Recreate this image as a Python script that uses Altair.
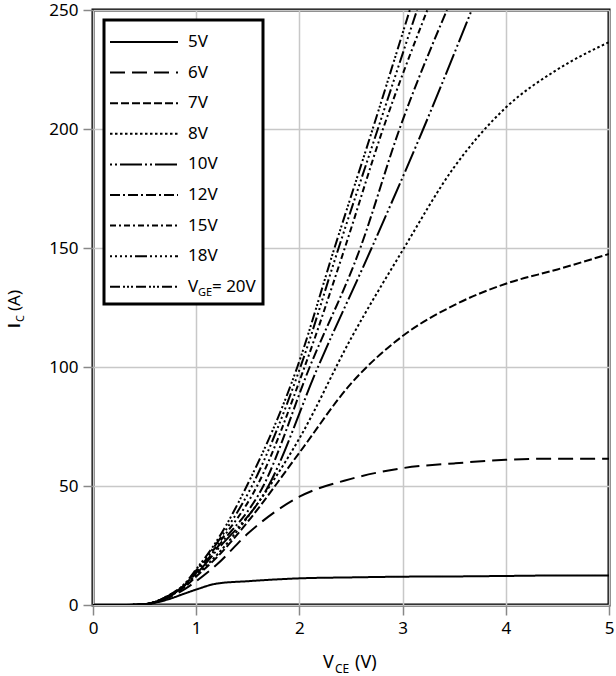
import altair as alt
import pandas as pd

# ---- data ----
labels = ["5V", "6V", "7V", "8V", "10V", "12V", "15V", "18V", "20V"]

v_low = [0, 0.3, 0.5, 0.7, 0.9, 1.0, 1.2, 1.5, 2.0, 2.5, 3.0, 3.5, 4.0, 4.5, 5.0]
i_5V = [0, 0, 0.3, 2.0, 5.0, 6.5, 9.0, 10.0, 11.2, 11.6, 11.9, 12.0, 12.2, 12.4, 12.4]
i_6V = [0, 0, 0.3, 2.5, 7.0, 10.0, 17.0, 30.0, 45.5, 53.0, 57.5, 59.5, 61.0, 61.5, 61.5]
i_7V = [0, 0, 0.3, 2.8, 8.0, 12.0, 20.0, 35.0, 64.0, 93.0, 113.0, 126.0, 135.0, 141.0, 147.5]
i_8V = [0, 0, 0.3, 3.0, 8.5, 12.5, 21.0, 37.0, 70.0, 112.0, 149.0, 184.0, 209.0, 225.0, 236.5]

v_10V = [0, 0.3, 0.5, 0.7, 0.9, 1.0, 1.2, 1.70, 2.18, 2.70, 3.20, 3.67]
i_10V = [0, 0, 0.3, 3.0, 8.7, 13.0, 23.0, 50, 100, 150, 200, 250]
v_12V = [0, 0.3, 0.5, 0.7, 0.9, 1.0, 1.2, 1.65, 2.10, 2.59, 2.97, 3.43]
i_12V = [0, 0, 0.3, 3.1, 8.8, 13.5, 24.0, 50, 100, 150, 200, 250]
v_15V = [0, 0.3, 0.5, 0.7, 0.9, 1.0, 1.2, 1.59, 2.05, 2.44, 2.81, 3.24]
i_15V = [0, 0, 0.3, 3.1, 9.0, 14.0, 25.0, 50, 100, 150, 200, 250]
v_18V = [0, 0.3, 0.5, 0.7, 0.9, 1.0, 1.2, 1.54, 2.01, 2.38, 2.76, 3.14]
i_18V = [0, 0, 0.3, 3.2, 9.3, 14.5, 26.0, 50, 100, 150, 200, 250]
v_20V = [0, 0.3, 0.5, 0.7, 0.9, 1.0, 1.2, 1.49, 1.98, 2.34, 2.71, 3.07]
i_20V = [0, 0, 0.3, 3.3, 9.5, 15.0, 27.0, 50, 100, 150, 200, 250]

x_ticks = [0, 1, 2, 3, 4, 5]
y_ticks = [0, 50, 100, 150, 200, 250]

# ---- styles ----
dashes = [
    [1, 0],
    [15, 7],
    [8, 3],
    [2.5, 2.5],
    [2, 3, 2, 3, 22, 3],
    [10, 3, 2, 3],
    [6, 3, 2, 3],
    [2, 3, 2, 3, 2, 3, 2, 3, 2, 3, 12, 3],
    [10, 3, 2, 2, 2, 2, 2, 3],
]
FONT = "Noto Sans"

series = [
    ("5V", v_low, i_5V), ("6V", v_low, i_6V), ("7V", v_low, i_7V), ("8V", v_low, i_8V),
    ("10V", v_10V, i_10V), ("12V", v_12V, i_12V), ("15V", v_15V, i_15V),
    ("18V", v_18V, i_18V), ("20V", v_20V, i_20V),
]
rows = []
for name, vs, cur in series:
    for v, i in zip(vs, cur):
        rows.append({"series": name, "v": v, "i": i})
df = pd.DataFrame(rows)

dash_scale = alt.Scale(domain=labels, range=dashes)

lines = alt.Chart(df).mark_line(
    color="black", strokeWidth=2, clip=True, interpolate="monotone"
).encode(
    x=alt.X("v:Q", scale=alt.Scale(domain=[0, 5], nice=False),
            axis=alt.Axis(values=x_ticks, title=None, format="d", labelFlush=False)),
    y=alt.Y("i:Q", scale=alt.Scale(domain=[0, 250], nice=False),
            axis=alt.Axis(values=y_ticks, title=None, format="d", labelFlush=False)),
    strokeDash=alt.StrokeDash("series:N", scale=dash_scale, legend=None),
    detail="series:N",
)

# ---- custom legend ----
leg_df = pd.DataFrame({"series": labels, "k": list(range(len(labels)))})
one = pd.DataFrame({"a": [0]})

box = alt.Chart(one).mark_rect(fill="white", stroke="black", strokeWidth=3).encode(
    x=alt.value(11), x2=alt.value(170), y=alt.value(10), y2=alt.value(294)
)

leg_base = alt.Chart(leg_df).transform_calculate(py="32 + 30.6 * datum.k")

leg_lines = leg_base.mark_rule(color="black", strokeWidth=2).encode(
    x=alt.value(17), x2=alt.value(85),
    y=alt.Y("py:Q", scale=None, axis=None),
    strokeDash=alt.StrokeDash("series:N", scale=dash_scale, legend=None),
)

leg_text = leg_base.transform_filter("datum.k < 8").mark_text(
    align="left", baseline="middle", font=FONT, fontSize=17, color="black"
).encode(
    x=alt.value(95),
    y=alt.Y("py:Q", scale=None, axis=None),
    text="series:N",
)

last_y = 32 + 30.6 * 8
t_v = alt.Chart(one).mark_text(align="left", baseline="middle", font=FONT, fontSize=17,
                               color="black", text="V").encode(x=alt.value(95), y=alt.value(last_y))
t_ge = alt.Chart(one).mark_text(align="left", baseline="middle", font=FONT, fontSize=11,
                                color="black", text="GE", dx=10, dy=6).encode(x=alt.value(95), y=alt.value(last_y))
t_eq = alt.Chart(one).mark_text(align="left", baseline="middle", font=FONT, fontSize=17,
                                color="black", text="= 20V", dx=24).encode(x=alt.value(95), y=alt.value(last_y))

# ---- axis titles with subscripts ----
xt_x, xt_y = 230, 658
xt1 = alt.Chart(one).mark_text(align="left", baseline="alphabetic", font=FONT, fontSize=18,
                               color="black", text="V").encode(x=alt.value(xt_x), y=alt.value(xt_y))
xt2 = alt.Chart(one).mark_text(align="left", baseline="alphabetic", font=FONT, fontSize=12,
                               color="black", text="CE", dx=12, dy=5).encode(x=alt.value(xt_x), y=alt.value(xt_y))
xt3 = alt.Chart(one).mark_text(align="left", baseline="alphabetic", font=FONT, fontSize=18,
                               color="black", text="(V)", dx=32).encode(x=alt.value(xt_x), y=alt.value(xt_y))

yt_x, yt_y = -73, 318
yt1 = alt.Chart(one).mark_text(align="left", baseline="alphabetic", font="Liberation Sans", fontSize=17,
                               fontWeight="bold", color="black", text="I", angle=270).encode(
    x=alt.value(yt_x), y=alt.value(yt_y))
yt2 = alt.Chart(one).mark_text(align="left", baseline="alphabetic", font=FONT, fontSize=11,
                               color="black", text="C", angle=270, dx=6, dy=4).encode(
    x=alt.value(yt_x), y=alt.value(yt_y))
yt3 = alt.Chart(one).mark_text(align="left", baseline="alphabetic", font=FONT, fontSize=17,
                               color="black", text="(A)", angle=270, dx=17).encode(
    x=alt.value(yt_x), y=alt.value(yt_y))

chart = alt.layer(
    lines, box, leg_lines, leg_text, t_v, t_ge, t_eq, xt1, xt2, xt3, yt1, yt2, yt3
).properties(
    width=516, height=595,
    background="white",
    autosize=alt.AutoSizeParams(type="none"),
    padding={"left": 93, "top": 10, "right": 7, "bottom": 71},
).configure_view(
    stroke="black", strokeWidth=3
).configure_axis(
    grid=True, gridColor="#c8c8c8", gridWidth=1.5,
    domain=False, tickColor="#888888", tickSize=10, tickWidth=1.5,
    labelFont=FONT, labelFontSize=17, labelColor="black", labelPadding=5,
)

chart.save("out.html", embed_options={"renderer": "svg", "actions": False})
